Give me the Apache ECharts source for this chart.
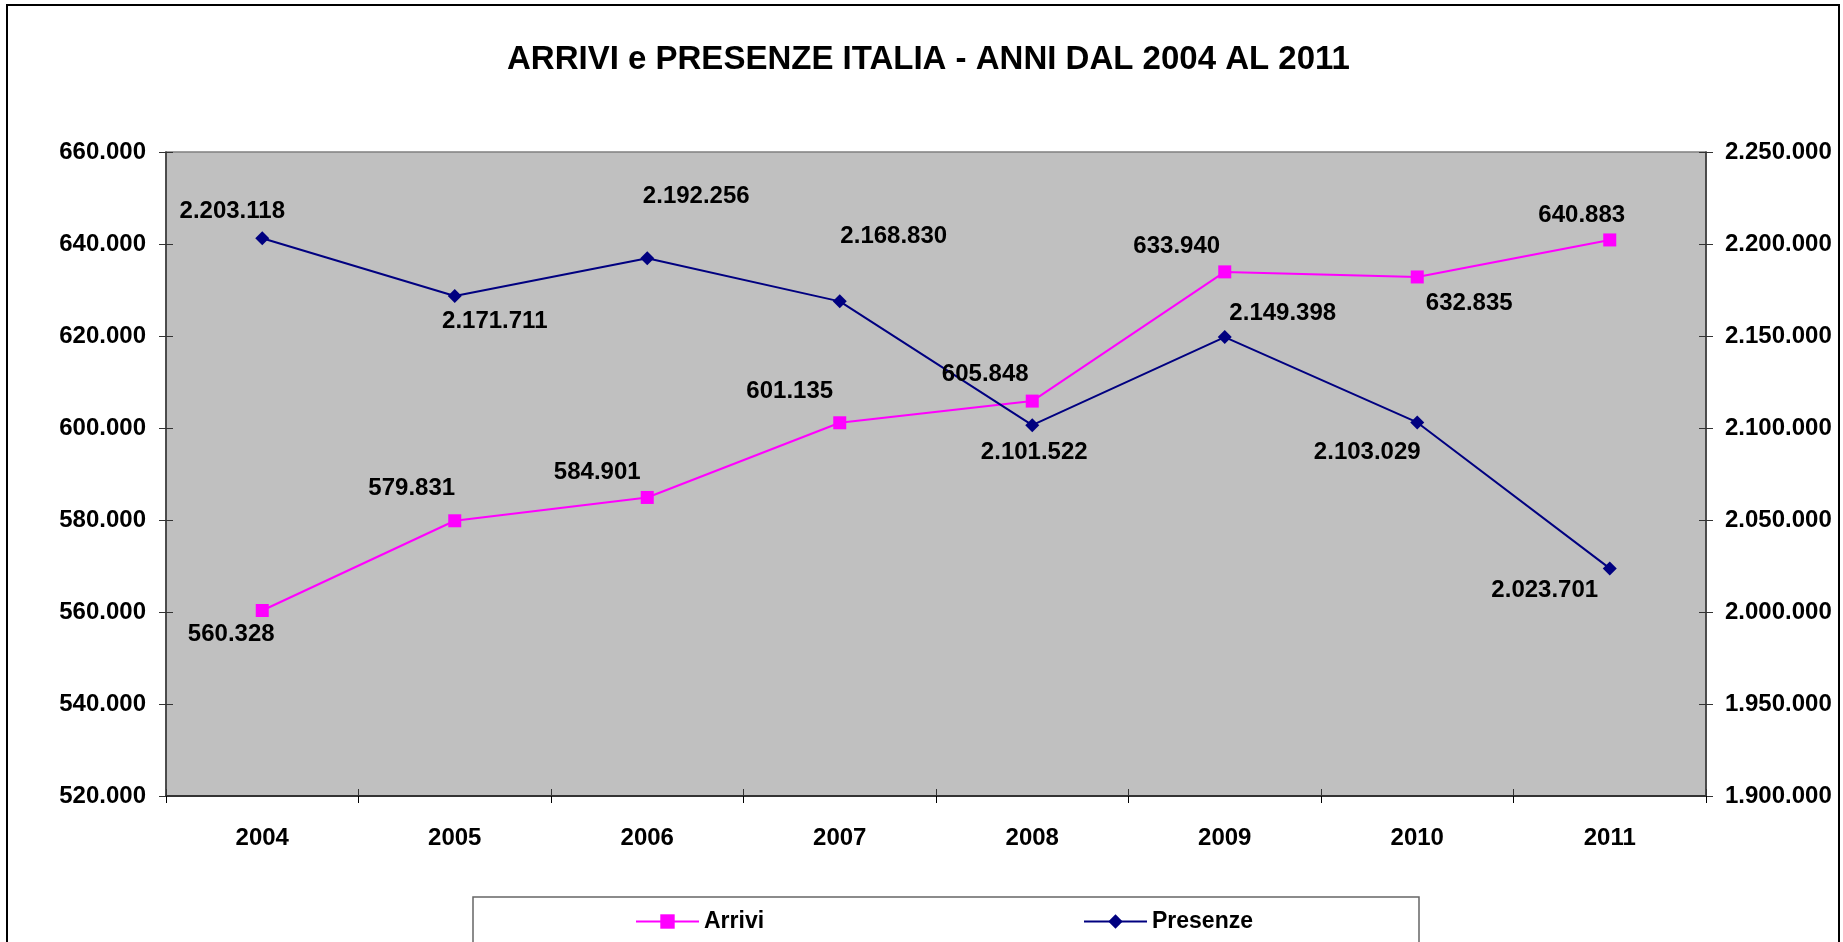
<!doctype html>
<html>
<head>
	<meta charset="utf-8">
	<title>Arrivi e presenze Italia</title>
	<script src="https://cdn.jsdelivr.net/npm/echarts/dist/echarts.min.js"></script>
	<style>
		html, body { margin: 0; padding: 0; background: #fff; }
		#container { width: 1843px; height: 942px; }
	</style>
</head>
<body>
	<div id="container"></div>
<script type="text/javascript">
	var anni = ['2004', '2005', '2006', '2007', '2008', '2009', '2010', '2011'];
	var arrivi = [560328, 579831, 584901, 601135, 605848, 633940, 632835, 640883];
	var presenze = [2203118, 2171711, 2192256, 2168830, 2101522, 2149398, 2103029, 2023701];

	// dove stanno le etichette rispetto al punto (px)
	var offArrivi = [[-31, 24], [-43, -32], [-50, -25], [-50, -31], [-47, -27], [-48, -26], [52, 26], [-28, -25]];
	var offPresenze = [[-30, -27], [40, 25], [49, -62], [54, -65], [2, 27], [58, -24], [-50, 30], [-65, 22]];

	var font = '"Liberation Sans", Arial, sans-serif';

	function fmt(v) {
		return String(v).replace(/\B(?=(\d{3})+(?!\d))/g, '.');
	}

	function punti(valori, off) {
		var out = [];
		for (var i = 0; i < valori.length; i++) {
			out.push({
				value: valori[i],
				label: { offset: off[i] }
			});
		}
		return out;
	}

	var etichetta = {
		show: true,
		position: 'inside',
		color: '#000',
		fontFamily: font,
		fontWeight: 'bold',
		fontSize: 24,
		formatter: function(p) { return fmt(p.value); }
	};

	var tickDentro = { show: true, inside: true, length: 7, lineStyle: { color: '#333', width: 1 } };
	var testoLegenda = { fontFamily: font, fontWeight: 'bold', fontSize: 23, color: '#000' };

	var option = {
		animation: false,
		backgroundColor: '#fff',
		textStyle: { fontFamily: font },
		title: {
			text: 'ARRIVI e PRESENZE ITALIA - ANNI DAL 2004 AL 2011',
			left: 502,
			top: 38,
			textStyle: { fontFamily: font, fontWeight: 'bold', fontSize: 33, color: '#000' }
		},
		legend: [{
			data: ['Arrivi'],
			left: 630,
			top: 905,
			itemWidth: 63,
			itemHeight: 18,
			textStyle: testoLegenda
		}, {
			data: ['Presenze'],
			left: 1078,
			top: 905,
			itemWidth: 63,
			itemHeight: 18,
			textStyle: testoLegenda
		}],
		graphic: [{
			type: 'rect',
			shape: { x: 7, y: 5, width: 1832, height: 1000 },
			style: { fill: 'none', stroke: '#000', lineWidth: 2 }
		}, {
			type: 'rect',
			shape: { x: 473, y: 897, width: 946, height: 80 },
			style: { fill: 'none', stroke: '#666', lineWidth: 1.5 }
		}],
		grid: {
			left: 166,
			right: 137,
			top: 152,
			bottom: 146,
			show: true,
			backgroundColor: '#c0c0c0',
			borderColor: '#808080',
			borderWidth: 1.5
		},
		xAxis: [{
			type: 'category',
			data: anni,
			boundaryGap: true,
			axisLine: { lineStyle: { color: '#333', width: 2 } },
			axisTick: { show: true, length: 7, lineStyle: { color: '#000', width: 1 } },
			axisLabel: { color: '#000', fontFamily: font, fontWeight: 'bold', fontSize: 24, margin: 30 },
			splitLine: { show: false }
		}, {
			type: 'category',
			data: anni,
			position: 'bottom',
			boundaryGap: true,
			axisLine: { show: false },
			axisTick: tickDentro,
			axisLabel: { show: false },
			splitLine: { show: false }
		}],
		yAxis: [{
			type: 'value',
			position: 'left',
			min: 520000,
			max: 660000,
			interval: 20000,
			axisLine: { show: true, lineStyle: { color: '#333', width: 1.5 } },
			axisTick: { show: true, length: 7, lineStyle: { color: '#333', width: 1 } },
			axisLabel: { color: '#000', fontFamily: font, fontWeight: 'bold', fontSize: 24, margin: 20, formatter: fmt },
			splitLine: { show: false }
		}, {
			type: 'value',
			position: 'right',
			min: 1900000,
			max: 2250000,
			interval: 50000,
			axisLine: { show: true, lineStyle: { color: '#333', width: 1.5 } },
			axisTick: { show: true, length: 7, lineStyle: { color: '#333', width: 1 } },
			axisLabel: { color: '#000', fontFamily: font, fontWeight: 'bold', fontSize: 24, margin: 19, formatter: fmt },
			splitLine: { show: false }
		}, {
			type: 'value',
			position: 'left',
			min: 520000,
			max: 660000,
			interval: 20000,
			axisLine: { show: false },
			axisTick: tickDentro,
			axisLabel: { show: false },
			splitLine: { show: false }
		}, {
			type: 'value',
			position: 'right',
			min: 1900000,
			max: 2250000,
			interval: 50000,
			axisLine: { show: false },
			axisTick: tickDentro,
			axisLabel: { show: false },
			splitLine: { show: false }
		}],
		series: [{
			name: 'Arrivi',
			type: 'line',
			yAxisIndex: 0,
			data: punti(arrivi, offArrivi),
			symbol: 'rect',
			symbolSize: 13,
			lineStyle: { color: '#ff00ff', width: 2 },
			itemStyle: { color: '#ff00ff' },
			label: etichetta
		}, {
			name: 'Presenze',
			type: 'line',
			yAxisIndex: 1,
			data: punti(presenze, offPresenze),
			symbol: 'diamond',
			symbolSize: 14,
			lineStyle: { color: '#000080', width: 2 },
			itemStyle: { color: '#000080' },
			label: etichetta
		}]
	};

	var myChart = echarts.init(document.getElementById('container'));
	myChart.setOption(option);
</script>
</body>
</html>
